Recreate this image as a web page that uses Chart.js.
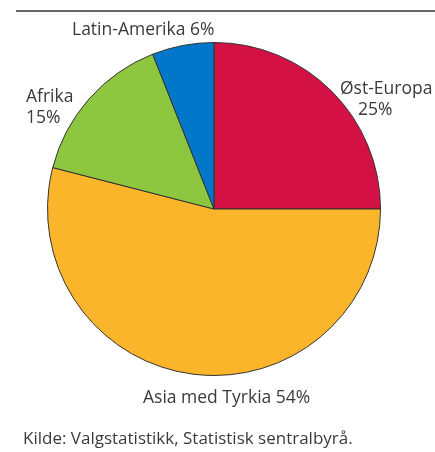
<!DOCTYPE html>
<html>
<head>
<meta charset="utf-8">
<script src="https://cdn.jsdelivr.net/npm/chart.js@4"></script>
<style>
html,body{margin:0;padding:0;background:#fff;}
#wrap{position:relative;width:435px;height:452px;}
canvas{position:absolute;left:0;top:0;}
#topline{position:absolute;left:16px;top:10px;width:419px;height:2px;background:#666;}
#src{position:absolute;left:23px;top:426px;font-family:"Open Sans",sans-serif;font-weight:400;font-size:17px;color:#3a3a3a;white-space:nowrap;}
</style>
</head>
<body>
<div id="wrap">
<div id="topline"></div>
<canvas id="c" width="435" height="452"></canvas>
<div id="src">Kilde: Valgstatistikk, Statistisk sentralbyrå.</div>
</div>
<script>
const categories = ["Øst-Europa", "Asia med Tyrkia", "Afrika", "Latin-Amerika"];
const values = [25, 54, 15, 6];
const colors = ["#D31145", "#FBB52B", "#8DC63F", "#0077C8"];
// label text lines per slice
const labelLines = [["Øst-Europa", "25%"], ["Asia med Tyrkia 54%"], ["Afrika", "15%"], ["Latin-Amerika 6%"]];
const labelPos = [
  [{x:340,y:94},{x:358,y:115}],
  [{x:143,y:403}],
  [{x:26,y:102},{x:26,y:123}],
  [{x:72,y:35}]
];

const labelPlugin = {
  id: 'labels',
  afterDraw(chart) {
    const ctx = chart.ctx;
    ctx.save();
    ctx.font = '400 17.5px "Open Sans", sans-serif';
    ctx.fillStyle = '#3a3a3a';
    ctx.textBaseline = 'alphabetic';
    ctx.textAlign = 'left';
    labelLines.forEach((lines, i) => {
      lines.forEach((t, j) => ctx.fillText(t, labelPos[i][j].x, labelPos[i][j].y));
    });
    ctx.restore();
  }
};

new Chart(document.getElementById('c'), {
  type: 'pie',
  data: {
    labels: categories,
    datasets: [{
      data: values,
      backgroundColor: colors,
      borderColor: '#333',
      borderWidth: 1
    }]
  },
  options: {
    responsive: false,
    animation: false,
    layout: {padding: {left: 47, right: 54, top: 41, bottom: 75}},
    plugins: {legend: {display: false}, tooltip: {enabled: false}}
  },
  plugins: [labelPlugin]
});
</script>
</body>
</html>
